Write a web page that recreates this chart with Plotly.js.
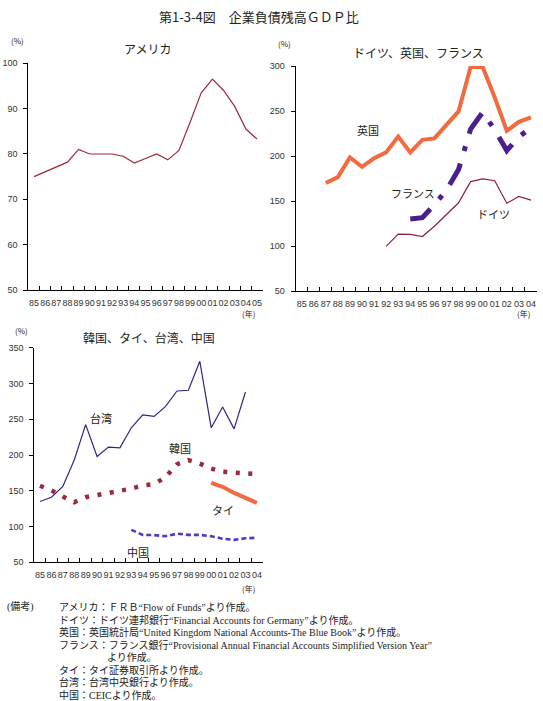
<!DOCTYPE html>
<html>
<head>
<meta charset="utf-8">
<script src="https://cdn.plot.ly/plotly-3.0.1.min.js"></script>
<style>
  html, body { margin: 0; padding: 0; background: #fff; }
  #chart { width: 543px; height: 701px; }
</style>
</head>
<body>
<div id="chart"></div>
<script>
// ---- data: corporate debt outstanding as % of GDP ----
const yearsUS = ['85','86','87','88','89','90','91','92','93','94','95','96','97','98','99','00','01','02','03','04','05'];
const yearsAll = ['85','86','87','88','89','90','91','92','93','94','95','96','97','98','99','00','01','02','03','04'];

const usa = [75, 76.1, 77.2, 78.2, 81, 80, 80, 80, 79.5, 78, 79, 80, 78.7, 80.8, 87, 93.5, 96.5, 94, 90.5, 85.5, 83.3];

const uk      = [null, null, 170, 176.5, 198.5, 188, 197.5, 204, 221.5, 204, 218, 219.5, 234.5, 249.5, 299, 299, 265, 228, 238, 243];
const france  = [null, null, null, null, null, null, null, null, null, 130, 131.5, 146, 162, 185, 230, 248.5, 229, 206, 221.5, 231];
const germany = [null, null, null, null, null, null, null, 99.5, 113.3, 113, 110.5, 122, 134.5, 148, 171.5, 174.5, 172.5, 147.5, 155, 151];

const taiwan = [135, 141, 156, 193, 242.5, 198, 211, 210, 238, 256, 254, 268, 289.5, 290.5, 331, 238, 267, 236.5, 288, null];
const korea  = [157, 150.5, 142, 134, 141, 144.5, 147, 150, 153, 157.5, 159.3, 169, 187, 193, 188, 181, 176.5, 175.5, 174.5, 173.5];
const thai   = [null, null, null, null, null, null, null, null, null, null, null, null, null, null, null, 161, 155.5, 147, 140, 133];
const china  = [null, null, null, null, null, null, null, null, 95.3, 88.3, 88, 86.5, 90, 88.3, 88.3, 86.5, 83, 81.3, 83.6, 84.3];

const notes = [
  ['アメリカ：ＦＲＢ“Flow of Funds”より作成。', 57],
  ['ドイツ：ドイツ連邦銀行“Financial Accounts for Germany”より作成。', 57],
  ['英国：英国統計局“United Kingdom National Accounts-The Blue Book”より作成。', 57],
  ['フランス：フランス銀行“Provisional Annual Financial Accounts Simplified Version Year”', 57],
  ['より作成。', 105],
  ['タイ：タイ証券取引所より作成。', 57],
  ['台湾：台湾中央銀行より作成。', 57],
  ['中国：CEICより作成。', 57]
];

// ---- page geometry (pixels) ----
const W = 543, H = 701;
const fx = px => px / W;
const fy = py => 1 - py / H;

const TXT = '#222';
const JP = '"Noto Sans CJK JP", "Liberation Sans", sans-serif';
const NOTEF = { family: '"Liberation Serif", "Noto Sans CJK JP", serif', size: 10, color: TXT };
const TICKF = { family: '"Liberation Sans", Arial, sans-serif', size: 9, color: '#333' };

function xAxis(domain, anchor, n) {
  return {
    domain: domain, anchor: anchor, type: 'category',
    range: [-0.5, n - 0.5],
    showline: true, linecolor: '#000', linewidth: 1,
    ticks: 'inside', ticklen: 4, tickcolor: '#000', tickwidth: 1,
    tickson: 'boundaries', ticklabelstandoff: 4,
    showgrid: false, zeroline: false,
    tickfont: TICKF, tickangle: 0
  };
}
function yAxis(domain, anchor, range, dtick) {
  return {
    domain: domain, anchor: anchor, range: range, dtick: dtick,
    showline: true, linecolor: '#000', linewidth: 1,
    ticks: 'outside', ticklen: 4, tickcolor: '#000', tickwidth: 1,
    ticklabelstandoff: 4,
    showgrid: false, zeroline: false,
    tickfont: TICKF
  };
}

const traces = [
  { x: yearsUS, y: usa, xaxis: 'x', yaxis: 'y', mode: 'lines',
    line: { color: '#9e2a3c', width: 1.2 } },

  { x: yearsAll, y: uk, xaxis: 'x2', yaxis: 'y2', mode: 'lines',
    line: { color: '#f26a40', width: 4 } },
  { x: yearsAll, y: france, xaxis: 'x2', yaxis: 'y2', mode: 'lines',
    line: { color: '#4c1f8c', width: 5, dash: '24px,13px,5px,13px' } },
  { x: yearsAll, y: germany, xaxis: 'x2', yaxis: 'y2', mode: 'lines',
    line: { color: '#8e1f3e', width: 1.2 } },

  { x: yearsAll, y: taiwan, xaxis: 'x3', yaxis: 'y3', mode: 'lines',
    line: { color: '#3b1f86', width: 1.2 } },
  { x: yearsAll, y: korea, xaxis: 'x3', yaxis: 'y3', mode: 'lines',
    line: { color: '#9c2a3c', width: 4.5, dash: '4px,8.5px' } },
  { x: yearsAll, y: thai, xaxis: 'x3', yaxis: 'y3', mode: 'lines',
    line: { color: '#f26a40', width: 4 } },
  { x: yearsAll, y: china, xaxis: 'x3', yaxis: 'y3', mode: 'lines',
    line: { color: '#4a3cc4', width: 2.6, dash: '5px,3px' } }
];

function label(text, x, y, size, opts) {
  return Object.assign({
    text: text, xref: 'paper', yref: 'paper', x: fx(x), y: fy(y),
    xanchor: 'center', yanchor: 'middle', showarrow: false,
    font: { family: JP, size: size, color: TXT }
  }, opts || {});
}

const annotations = [
  label('第1-3-4図　企業負債残高ＧＤＰ比', 259, 16, 13),
  label('アメリカ', 147, 48, 12),
  label('ドイツ、英国、フランス', 418, 52, 12),
  label('韓国、タイ、台湾、中国', 149, 338, 12),
  label('(%)', 17, 40, 8),
  label('(%)', 284, 43, 8),
  label('(%)', 21, 330, 8),
  label('(年)', 248, 313, 8),
  label('(年)', 523, 313, 8),
  label('(年)', 248, 588, 8),
  label('英国', 368, 130, 11),
  label('フランス', 413, 193, 11),
  label('ドイツ', 493, 214, 11),
  label('台湾', 101, 418, 11),
  label('韓国', 180, 448, 11),
  label('タイ', 223, 510, 11),
  label('中国', 138, 552, 11),
  label('(備考)', 5, 607, 10, { xanchor: 'left', font: NOTEF })
];
notes.forEach(function (n, i) {
  annotations.push(label(n[0], n[1], 607 + i * 12.5, 10, { xanchor: 'left', font: NOTEF }));
});

const layout = {
  width: W, height: H,
  margin: { l: 0, r: 0, t: 0, b: 0 },
  paper_bgcolor: '#fff', plot_bgcolor: 'rgba(0,0,0,0)',
  showlegend: false,
  xaxis:  xAxis([fx(28.4), fx(262.6)], 'y', yearsUS.length),
  yaxis:  yAxis([fy(290), fy(63.3)], 'x', [50, 100], 10),
  xaxis2: xAxis([fx(295.6), fx(537)], 'y2', yearsAll.length),
  yaxis2: yAxis([fy(291), fy(66)], 'x2', [50, 300], 50),
  xaxis3: xAxis([fx(34.3), fx(262.6)], 'y3', yearsAll.length),
  yaxis3: yAxis([fy(562.3), fy(347.7)], 'x3', [50, 350], 50),
  annotations: annotations
};

Plotly.newPlot('chart', traces, layout, { staticPlot: true, displayModeBar: false });
</script>
</body>
</html>
